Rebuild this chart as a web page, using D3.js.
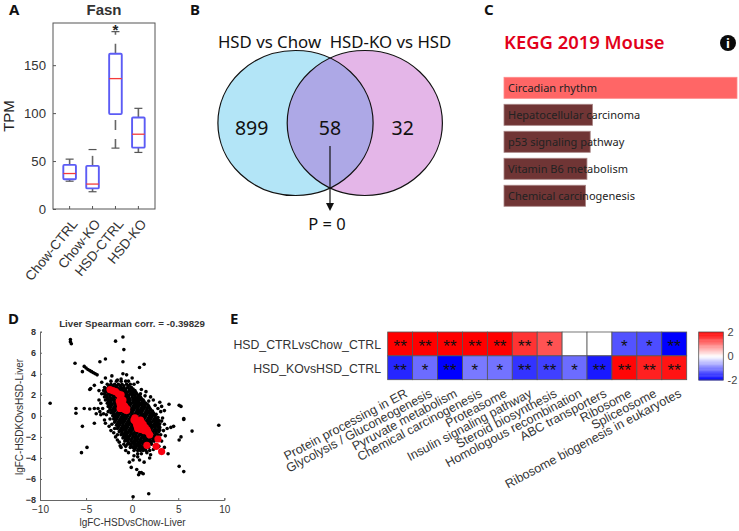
<!DOCTYPE html>
<html>
<head>
<meta charset="utf-8">
<script src="https://d3js.org/d3.v7.min.js"></script>
<style>
    html, body { margin: 0; padding: 0; background: #fff; }
    svg { display: block; }
    text { font-family: "Liberation Sans", Arial, sans-serif; }
    .office text, text.office { font-family: "Noto Sans", sans-serif; }
</style>
</head>
<body>
<div id="chart"></div>
<script>
// panel A: Fasn boxplot
const boxGroups = ['Chow-CTRL', 'Chow-KO', 'HSD-CTRL', 'HSD-KO'];
const boxLow = [29, 18, 63.5, 59];
const boxQ1 = [31, 21.5, 99, 64];
const boxMedian = [37, 26, 136, 78];
const boxQ3 = [46, 45, 162, 95.5];
const boxHigh = [52, 62, 185, 105];
const boxTicks = [0, 50, 100, 150];

// panel B: venn counts
const vennNames = ['HSD vs Chow', 'HSD-KO vs HSD'];
const vennCounts = [899, 58, 32];

// panel C: enrichment bars
const keggTerms = ['Circadian rhythm', 'Hepatocellular carcinoma', 'p53 signaling pathway', 'Vitamin B6 metabolism', 'Chemical carcinogenesis'];
const keggScores = [100, 38, 37, 35.6, 35];

// panel D: scatter, sparse points read one by one
const scatterOutliers = [
    [-6.7, 7.25], [-6.7, 7.05], [-6.6, 6.85], [-1.8, 7.1], [-1, 7.5], [-0.9, 6.3], [-6.2, 5], [-3.5, 5.15], [-2.9, 5.4],
    [-1, 5.15], [0.8, 4.6], [1.3, 4.9], [-5.2, 4.7], [-5, 4.55], [-4.8, 4.4], [-4.6, 4.3], [-4.4, 4.2], [-4.2, 4.1],
    [-4, 4], [-3.8, 3.9], [-5.4, 4.2], [-8.9, 1.2], [-6.1, 0.7], [-6.1, 0.25], [-5.2, 0.7], [-4.6, 0.65], [-4.1, 0.7],
    [-5.4, -1], [-4.1, -0.7], [-4.9, -3], [-5.5, -3.5], [-3.9, 0.2], [-3.7, 0.7], [-3.4, 0.1], [-3.1, 0.2], [-4.6, 2.5],
    [-4.5, 2.6], [-4.1, 2.9], [-3.3, 3.2], [-3.6, 2.4], [-3.6, 1.5], [-3.4, 1.2], [-3.2, 0.7], [-2.8, 0.1], [-3, -0.4],
    [-2.5, -1], [-2.2, -0.8], [-2, -1.6], [-1.8, -2], [-1.2, -3], [-1.3, -2.85], [-0.7, -3.3], [-1.6, -2.3],
    [9.4, -0.9], [6.5, -1.45], [5.6, -0.25], [5.6, -0.35], [5.1, 1], [5.3, 0.9], [4, 1.1], [4.5, -1], [4.2, -1.1],
    [5.3, -2], [5.1, -2.3], [5.1, -4.8], [5.6, -5.3], [3.9, -3.6], [3.5, -3], [1.8, -7.4], [0.1, -7.7],
    [-0.3, -4.4], [-0.1, -4.9], [0.5, -5.1], [0.8, -5.4], [1, -5.4], [1.2, -5.5], [0.7, -5.6],
    [3, 1.3], [3.5, 0.5], [2, 1.8], [2.3, 1.5], [1.5, 2.3], [1.2, 1.5], [1, 2.5], [0, 3.6], [-1, 4], [0.2, 3],
    [-0.1, 2.7], [-1.2, 3.5], [3.3, -0.2], [3.5, -0.8], [3.8, -1.2], [3.1, -1.8], [3.2, -2.4], [1.9, -4], [0.8, -4.2],
    [1.3, -4.4], [2, -3.7], [0.2, -3.8],
    [-2.9, 3.6], [-2.2, 3.8], [-1.6, 3.4], [-0.6, 3.9], [-0.4, 3.3], [0.6, 3.2], [0.9, 2.1], [1.4, 1.9], [1.8, 1.4],
    [2.5, 1], [2.8, 0.7], [3.1, 0.4], [3.2, 0.9], [-3.3, 2.1], [-3.5, 0.4], [-2.9, -0.7], [-2.4, -0.3], [-2.6, 0.4],
    [-2.3, -1.4], [-1.9, -1.2], [-1.6, -1.8], [-1.4, -2.5], [-0.9, -2.7], [-0.7, -2.9], [-0.4, -3.5], [0.1, -4.2],
    [0.6, -3.9], [1.6, -3.5], [1.9, -3.3], [2.3, -3.2], [3, -1.1], [3.2, -0.5], [3.6, -1.9], [3.4, -1.4], [2.9, -2.9]
];

// dense part of the cloud, one row per y value: [y, x, x, x...]
const scatterRows = [
    [3.3, -2.3, -1.7, -1.2, -0.7],
    [3.0, -2.7, -2.3, -1.9, -1.5, -1.1, -0.6, -0.2],
    [2.85, -2.5, -2.1, -1.7, -1.3, -0.9, -0.4],
    [2.7, -3.0, -2.6, -2.3, -1.9, -1.6, -1.2, -0.9, -0.5, -0.1],
    [2.55, -2.8, -2.5, -2.1, -1.8, -1.4, -1.1, -0.7, -0.3, 0.1],
    [2.4, -3.1, -2.8, -2.4, -2.1, -1.7, -1.4, -1.0, -0.7, -0.3, 0.0, 0.3],
    [2.25, -2.9, -2.5, -2.2, -1.8, -1.5, -1.2, -0.8, -0.5, -0.1, 0.2, 0.4],
    [2.1, -3.0, -2.6, -2.3, -1.9, -1.6, -1.3, -0.9, -0.6, -0.2, 0.1, 0.5],
    [1.95, -2.8, -2.4, -2.1, -1.7, -1.4, -1.1, -0.7, -0.4, 0.0, 0.3, 0.7],
    [1.8, -3.0, -2.7, -2.4, -2.0, -1.7, -1.4, -1.0, -0.7, -0.4, 0.0, 0.3, 0.6, 0.9],
    [1.65, -2.7, -2.3, -2.0, -1.6, -1.3, -1.0, -0.6, -0.3, 0.1, 0.4, 0.7, 1.0],
    [1.5, -2.9, -2.5, -2.2, -1.9, -1.5, -1.2, -0.9, -0.5, -0.2, 0.2, 0.5, 0.8, 1.1],
    [1.35, -2.6, -2.3, -1.9, -1.6, -1.3, -0.9, -0.6, -0.3, 0.1, 0.4, 0.7, 1.1, 1.3],
    [1.2, -2.7, -2.4, -2.0, -1.7, -1.4, -1.1, -0.7, -0.4, -0.1, 0.3, 0.6, 0.9, 1.2, 1.5],
    [1.05, -2.5, -2.2, -1.8, -1.5, -1.2, -0.8, -0.5, -0.2, 0.2, 0.5, 0.8, 1.1, 1.4, 1.7],
    [0.9, -2.6, -2.3, -1.9, -1.6, -1.3, -0.9, -0.6, -0.3, 0.1, 0.4, 0.7, 1.1, 1.4, 1.8],
    [0.75, -2.4, -2.0, -1.7, -1.4, -1.0, -0.7, -0.4, 0.0, 0.3, 0.6, 1.0, 1.3, 1.6, 1.9],
    [0.6, -2.4, -2.1, -1.8, -1.4, -1.1, -0.8, -0.4, -0.1, 0.2, 0.6, 0.9, 1.2, 1.6, 2.0],
    [0.45, -2.2, -1.9, -1.5, -1.2, -0.9, -0.5, -0.2, 0.1, 0.5, 0.8, 1.1, 1.5, 1.8, 2.2],
    [0.3, -2.3, -2.0, -1.6, -1.3, -1.0, -0.6, -0.3, 0.0, 0.4, 0.7, 1.0, 1.4, 1.7, 2.0, 2.3],
    [0.15, -2.0, -1.7, -1.4, -1.0, -0.7, -0.4, 0.0, 0.3, 0.6, 1.0, 1.3, 1.6, 2.0, 2.3, 2.6],
    [0.0, -2.1, -1.8, -1.5, -1.1, -0.8, -0.5, -0.1, 0.2, 0.5, 0.9, 1.2, 1.5, 1.9, 2.2, 2.5],
    [-0.15, -1.9, -1.6, -1.2, -0.9, -0.6, -0.2, 0.1, 0.4, 0.8, 1.1, 1.4, 1.8, 2.1, 2.5, 2.8],
    [-0.3, -2.0, -1.7, -1.3, -1.0, -0.7, -0.3, 0.0, 0.3, 0.7, 1.0, 1.3, 1.7, 2.0, 2.4, 2.7],
    [-0.45, -1.8, -1.4, -1.1, -0.8, -0.4, -0.1, 0.2, 0.6, 0.9, 1.2, 1.6, 1.9, 2.3, 2.6, 2.9],
    [-0.6, -1.9, -1.5, -1.2, -0.9, -0.5, -0.2, 0.1, 0.5, 0.8, 1.1, 1.5, 1.8, 2.1, 2.5, 2.8],
    [-0.75, -1.6, -1.3, -1.0, -0.6, -0.3, 0.0, 0.4, 0.7, 1.0, 1.4, 1.7, 2.0, 2.4, 2.7, 3.0],
    [-0.9, -1.7, -1.4, -1.0, -0.7, -0.4, 0.0, 0.3, 0.6, 1.0, 1.3, 1.6, 2.0, 2.3, 2.6, 2.9],
    [-1.05, -1.5, -1.1, -0.8, -0.5, -0.1, 0.2, 0.5, 0.9, 1.2, 1.5, 1.9, 2.2, 2.5, 2.8],
    [-1.2, -1.6, -1.2, -0.9, -0.6, -0.2, 0.1, 0.4, 0.8, 1.1, 1.4, 1.8, 2.1, 2.5, 2.9],
    [-1.35, -1.3, -1.0, -0.7, -0.3, 0.0, 0.3, 0.7, 1.0, 1.3, 1.7, 2.0, 2.4, 2.7, 3.0],
    [-1.5, -1.4, -1.1, -0.7, -0.4, -0.1, 0.3, 0.6, 0.9, 1.3, 1.6, 1.9, 2.3, 2.6, 2.9],
    [-1.65, -1.1, -0.8, -0.5, -0.1, 0.2, 0.5, 0.9, 1.2, 1.5, 1.9, 2.2, 2.6],
    [-1.8, -1.2, -0.9, -0.6, -0.2, 0.1, 0.4, 0.8, 1.1, 1.4, 1.8, 2.1, 2.5, 2.8],
    [-1.95, -0.9, -0.6, -0.3, 0.1, 0.4, 0.7, 1.1, 1.4, 1.7, 2.1, 2.4],
    [-2.1, -1.0, -0.7, -0.4, 0.0, 0.3, 0.6, 1.0, 1.3, 1.6, 2.0, 2.3, 2.7],
    [-2.25, -0.7, -0.4, -0.1, 0.3, 0.6, 0.9, 1.3, 1.6, 1.9, 2.3],
    [-2.4, -0.8, -0.5, -0.1, 0.2, 0.5, 0.9, 1.2, 1.5, 1.9, 2.2, 2.4],
    [-2.55, -0.4, 0.0, 0.3, 0.7, 1.0, 1.3, 1.7, 2.0],
    [-2.7, -0.5, -0.2, 0.2, 0.5, 0.8, 1.2, 1.5, 1.8, 2.1],
    [-2.85, -0.1, 0.3, 0.6, 0.9, 1.3, 1.6],
    [-3.0, -0.2, 0.1, 0.4, 0.8, 1.1, 1.4, 1.8],
    [-3.15, 0.3, 0.7, 1.0, 1.3],
    [-3.3, 0.2, 0.6, 0.9, 1.2, 1.5],
    [-3.6, 0.6, 1.0]
];

// highlighted genes
const scatterRed = [
    [-2.4, 2.5], [-2.1, 2.4], [-1.8, 2.3], [-1.5, 2.1], [-1.3, 1.9], [-1.2, 2], [-1.3, 1.1], [-1.2, 0.9], [-1.1, 1.3],
    [-1, 0.8], [-0.9, 1], [-0.8, 0.6], [-0.6, 0.7], [-0.6, 0.5], [-1.4, 1.4], [-1, 1.5], [-1.3, 0.7], [-0.8, 0.9],
    [0.2, -0.4], [0.4, -0.6], [0.5, -0.9], [0.7, -0.7], [0.8, -1], [1, -0.6], [1.1, -1.1], [1.2, -0.8], [1.4, -1.1],
    [1.6, -1.3], [1.9, -1.8], [0.3, -0.2], [0.6, -1.2], [0.9, -1.3], [1.3, -1.4], [1.7, -1.5], [0.9, -0.4], [0.5, -0.5],
    [2.8, -2.2], [1.6, -2.8], [2.6, -2.9], [3.2, -3.4]
];

// panel E: pathway heatmap
const heatRows = ['HSD_CTRLvsChow_CTRL', 'HSD_KOvsHSD_CTRL'];
const heatPathways = ['Protein processing in ER', 'Glycolysis / Gluconeogenesis', 'Pyruvate metabolism', 'Chemical carcinogenesis',
    'Proteasome', 'Insulin signaling pathway', 'Steroid biosynthesis', 'Homologous recombination', 'ABC transporters',
    'Ribosome', 'Spliceosome', 'Ribosome biogenesis in eukaryotes'];
const heatCtrl = [2, 2, 2, 2, 2, 1.6, 1.35, 0, 0, -1.35, -1.4, -2];
const heatKo = [-1.7, -1.15, -2, -1.05, -1.1, -1.6, -1.5, -1.15, -1.8, 1.95, 1.75, 1.85];
const starsCtrl = ['**', '**', '**', '**', '**', '**', '*', '', '', '*', '*', '**'];
const starsKo = ['**', '*', '**', '*', '*', '**', '**', '*', '**', '**', '**', '**'];

const svg = d3.select('#chart')
    .append('svg')
    .attr('width', 739)
    .attr('height', 531);

function panelLetter(letter, x, y) {
    svg.append('text')
        .attr('class', 'office')
        .attr('x', x)
        .attr('y', y)
        .attr('font-size', 15)
        .attr('font-weight', 'bold')
        .attr('fill', '#111')
        .text(letter);
}
panelLetter('A', 9, 15);
panelLetter('B', 190, 15);
panelLetter('C', 484, 15);
panelLetter('D', 8, 324);
panelLetter('E', 230, 324);

function drawBoxplot() {
    const left = 53, right = 155, top = 23, bottom = 209;
    const x = d3.scaleBand().domain(boxGroups).range([left, right]).padding(0.45);
    const y = d3.scaleLinear().domain([0, 194]).range([bottom, top]);
    const g = svg.append('g');

    g.append('rect')
        .attr('x', left).attr('y', top)
        .attr('width', right - left).attr('height', bottom - top)
        .attr('fill', 'none').attr('stroke', '#555').attr('stroke-width', 1);

    const yAxis = d3.axisLeft(y).tickValues(boxTicks).tickSize(-3).tickPadding(7);
    const yG = g.append('g').attr('transform', `translate(${left},0)`).call(yAxis);
    yG.select('.domain').remove();
    yG.selectAll('line').attr('stroke', '#555');
    yG.selectAll('text').attr('font-size', 13.2).attr('fill', '#333');

    const xAxis = d3.axisBottom(x).tickSize(-3).tickPadding(8);
    const xG = g.append('g').attr('transform', `translate(0,${bottom})`).call(xAxis);
    xG.select('.domain').remove();
    xG.selectAll('line').attr('stroke', '#555');
    xG.selectAll('text')
        .attr('font-size', 13.5)
        .attr('fill', '#333')
        .attr('text-anchor', 'end')
        .attr('transform', 'translate(-5,4) rotate(-51)');

    boxGroups.forEach((name, i) => {
        const cx = x(name) + x.bandwidth() / 2;
        const capW = 4;
        g.append('line')
            .attr('x1', cx).attr('x2', cx)
            .attr('y1', y(boxQ3[i])).attr('y2', y(boxHigh[i]))
            .attr('stroke', '#666').attr('stroke-width', 1.6).attr('stroke-dasharray', '10,9');
        // long lower whisker starts on a gap
        const longLow = y(boxLow[i]) - y(boxQ1[i]) > 20;
        g.append('line')
            .attr('x1', cx).attr('x2', cx)
            .attr('y1', y(boxQ1[i])).attr('y2', y(boxLow[i]))
            .attr('stroke', '#666').attr('stroke-width', 1.6).attr('stroke-dasharray', '10,9')
            .attr('stroke-dashoffset', longLow ? 13 : 0);
        [boxLow[i], boxHigh[i]].forEach(v => {
            g.append('line')
                .attr('x1', cx - capW).attr('x2', cx + capW)
                .attr('y1', y(v)).attr('y2', y(v))
                .attr('stroke', '#555').attr('stroke-width', 1.2);
        });
        g.append('rect')
            .attr('x', x(name)).attr('y', y(boxQ3[i]))
            .attr('width', x.bandwidth()).attr('height', y(boxQ1[i]) - y(boxQ3[i]))
            .attr('rx', 1)
            .attr('fill', 'none')
            .attr('stroke', '#5c5cf5').attr('stroke-width', 1.9);
        g.append('line')
            .attr('x1', x(name)).attr('x2', x(name) + x.bandwidth())
            .attr('y1', y(boxMedian[i])).attr('y2', y(boxMedian[i]))
            .attr('stroke', '#f53a3a').attr('stroke-width', 1.3);
    });

    // significance star over HSD-CTRL
    g.append('text')
        .attr('x', x('HSD-CTRL') + x.bandwidth() / 2)
        .attr('y', 35)
        .attr('text-anchor', 'middle')
        .attr('font-size', 15)
        .attr('font-weight', 'bold')
        .attr('fill', '#222')
        .text('*');
    g.append('text')
        .attr('x', 104).attr('y', 15)
        .attr('text-anchor', 'middle')
        .attr('font-size', 15)
        .attr('font-weight', 'bold')
        .attr('fill', '#333')
        .text('Fasn');
    g.append('text')
        .attr('transform', 'translate(14,116) rotate(-90)')
        .attr('text-anchor', 'middle')
        .attr('font-size', 15)
        .attr('fill', '#222')
        .text('TPM');
}

function drawVenn() {
    const g = svg.append('g').attr('class', 'office');
    const cy = 123, ry = 72.5, rx = 77.6;
    const cx = [295.5, 364.8];

    svg.append('defs').append('clipPath').attr('id', 'vennClip')
        .append('ellipse')
        .attr('cx', cx[1]).attr('cy', cy).attr('rx', rx).attr('ry', ry);

    g.append('ellipse').attr('cx', cx[0]).attr('cy', cy).attr('rx', rx).attr('ry', ry).attr('fill', '#b3e5f7');
    g.append('ellipse').attr('cx', cx[1]).attr('cy', cy).attr('rx', rx).attr('ry', ry).attr('fill', '#e4b6e8');
    g.append('ellipse').attr('cx', cx[0]).attr('cy', cy).attr('rx', rx).attr('ry', ry)
        .attr('fill', '#ada8e6').attr('clip-path', 'url(#vennClip)');
    cx.forEach(c => {
        g.append('ellipse').attr('cx', c).attr('cy', cy).attr('rx', rx).attr('ry', ry)
            .attr('fill', 'none').attr('stroke', '#111').attr('stroke-width', 1.2);
    });

    g.selectAll('.setName').data(vennNames).enter()
        .append('text')
        .attr('x', (d, i) => [269.5, 390.5][i])
        .attr('y', 48)
        .attr('text-anchor', 'middle')
        .attr('font-size', 16.8)
        .attr('fill', '#111')
        .text(d => d);

    g.selectAll('.count').data(vennCounts).enter()
        .append('text')
        .attr('x', (d, i) => [251.7, 330, 402.7][i])
        .attr('y', 135)
        .attr('text-anchor', 'middle')
        .attr('font-size', 19.5)
        .attr('fill', '#111')
        .text(d => d);

    g.append('line')
        .attr('x1', 330).attr('x2', 330)
        .attr('y1', 146).attr('y2', 204)
        .attr('stroke', '#111').attr('stroke-width', 1.2);
    g.append('path')
        .attr('d', d3.line()([[326, 203], [334, 203], [330, 211]]))
        .attr('fill', '#111');
    g.append('text')
        .attr('x', 327).attr('y', 230)
        .attr('text-anchor', 'middle')
        .attr('font-size', 16.5)
        .attr('fill', '#111')
        .text('P = 0');
}

function drawKegg() {
    const g = svg.append('g').attr('class', 'office');
    const x = d3.scaleLinear().domain([0, 100]).range([504, 737]);
    const y = d3.scaleBand().domain(keggTerms).range([77.3, 206.3]).paddingInner(0.22);

    g.append('text')
        .attr('x', 504).attr('y', 49)
        .attr('font-size', 18.4)
        .attr('font-weight', '600')
        .attr('fill', '#e2001a')
        .text('KEGG 2019 Mouse');

    // info icon
    g.append('circle').attr('cx', 728).attr('cy', 43).attr('r', 8).attr('fill', '#0a0a0a');
    g.append('text')
        .attr('x', 728).attr('y', 48)
        .attr('text-anchor', 'middle')
        .attr('font-size', 13)
        .attr('font-weight', 'bold')
        .attr('fill', '#fff')
        .text('i');

    g.selectAll('.bar').data(keggTerms).enter()
        .append('rect')
        .attr('x', x(0))
        .attr('y', d => y(d))
        .attr('width', (d, i) => x(keggScores[i]) - x(0))
        .attr('height', y.bandwidth())
        .attr('fill', (d, i) => i === 0 ? '#ff6666' : '#703535')
        .attr('stroke', (d, i) => i === 0 ? '#ff8a8a' : '#a98686')
        .attr('stroke-width', 0.8);

    g.selectAll('.term').data(keggTerms).enter()
        .append('text')
        .attr('x', 508)
        .attr('y', d => y(d) + y.bandwidth() / 2 + 4)
        .attr('font-size', 11)
        .attr('fill', '#222')
        .text(d => d);
}

function drawScatter() {
    const g = svg.append('g');
    const x = d3.scaleLinear().domain([-10, 10]).range([40, 224.3]);
    const y = d3.scaleLinear().domain([-8, 8]).range([500, 331.7]);

    let dots = scatterOutliers.slice();
    scatterRows.forEach(row => {
        row.slice(1).forEach(v => dots.push([v, row[0]]));
    });

    g.selectAll('.dot').data(dots).enter()
        .append('circle')
        .attr('cx', d => x(d[0]))
        .attr('cy', d => y(d[1]))
        .attr('r', 1.8)
        .attr('fill', '#000');

    g.selectAll('.hit').data(scatterRed).enter()
        .append('circle')
        .attr('cx', d => x(d[0]))
        .attr('cy', d => y(d[1]))
        .attr('r', 3.6)
        .attr('fill', '#fa0010');

    const xG = g.append('g').attr('transform', 'translate(0,500)')
        .call(d3.axisBottom(x).ticks(4).tickSize(-2).tickPadding(6));
    const yG = g.append('g').attr('transform', 'translate(40,0)')
        .call(d3.axisLeft(y).tickValues(d3.range(-8, 9, 2)).tickSize(-2).tickPadding(4));
    [xG, yG].forEach(a => {
        a.select('.domain').attr('stroke', '#666');
        a.selectAll('line').attr('stroke', '#666');
        a.selectAll('text').attr('fill', '#333');
    });
    xG.selectAll('text').attr('font-size', 10);
    yG.selectAll('text').attr('font-size', 9).attr('font-weight', 'bold');

    g.append('text')
        .attr('x', 132).attr('y', 327)
        .attr('text-anchor', 'middle')
        .attr('font-size', 9.7)
        .attr('font-weight', 'bold')
        .attr('fill', '#333')
        .text('Liver Spearman corr. = -0.39829');
    g.append('text')
        .attr('x', 132.5).attr('y', 526)
        .attr('text-anchor', 'middle')
        .attr('font-size', 10)
        .attr('fill', '#333')
        .text('lgFC-HSDvsChow-Liver');
    g.append('text')
        .attr('transform', 'translate(23,417) rotate(-90)')
        .attr('text-anchor', 'middle')
        .attr('font-size', 10)
        .attr('fill', '#333')
        .text('lgFC-HSDKOvsHSD-Liver');
}

function drawHeatmap() {
    const g = svg.append('g');
    const x = d3.scaleBand().domain(heatPathways).range([387.7, 686.7]);
    const y = d3.scaleBand().domain(heatRows).range([332, 379.7]);
    const color = d3.scaleLinear().domain([-2, 0, 2]).range(['#0000ff', '#ffffff', '#ff0000']);
    const values = [heatCtrl, heatKo];
    const stars = [starsCtrl, starsKo];

    heatRows.forEach((row, r) => {
        g.selectAll('.cell' + r).data(heatPathways).enter()
            .append('rect')
            .attr('x', d => x(d))
            .attr('y', y(row))
            .attr('width', x.bandwidth())
            .attr('height', y.bandwidth())
            .attr('fill', (d, i) => color(values[r][i]))
            .attr('stroke', '#555')
            .attr('stroke-width', 0.8);

        g.selectAll('.star' + r).data(heatPathways).enter()
            .append('text')
            .attr('x', d => x(d) + x.bandwidth() / 2)
            .attr('y', y(row) + y.bandwidth() / 2 + 8.5)
            .attr('text-anchor', 'middle')
            .attr('font-size', 17)
            .attr('fill', '#111')
            .text((d, i) => stars[r][i]);

        g.append('text')
            .attr('x', 381)
            .attr('y', y(row) + y.bandwidth() / 2 + 5)
            .attr('text-anchor', 'end')
            .attr('font-size', 12.3)
            .attr('fill', '#333')
            .text(row);
    });

    g.selectAll('.pathway').data(heatPathways).enter()
        .append('text')
        .attr('transform', d => `translate(${x(d) + x.bandwidth() / 2 + 8},396) rotate(-28)`)
        .attr('text-anchor', 'end')
        .attr('font-size', 12.5)
        .attr('fill', '#333')
        .text(d => d);

    // colorbar
    const barY = d3.scaleLinear().domain([-2, 2]).range([380, 332]);
    const steps = d3.range(-2, 2, 0.1);
    g.selectAll('.legendStep').data(steps).enter()
        .append('rect')
        .attr('x', 698.7)
        .attr('y', d => barY(d + 0.1))
        .attr('width', 24.6)
        .attr('height', d => barY(d) - barY(d + 0.1) + 0.4)
        .attr('fill', d => color(d + 0.05));
    g.append('rect')
        .attr('x', 698.7).attr('y', 332)
        .attr('width', 24.6).attr('height', 48)
        .attr('fill', 'none').attr('stroke', '#555').attr('stroke-width', 0.8);
    [2, 0, -2].forEach(v => {
        g.append('text')
            .attr('x', 727.5)
            .attr('y', barY(v) + 4)
            .attr('font-size', 11)
            .attr('fill', '#444')
            .text(v);
    });
}

drawBoxplot();
drawVenn();
drawKegg();
drawScatter();
drawHeatmap();
</script>
</body>
</html>
